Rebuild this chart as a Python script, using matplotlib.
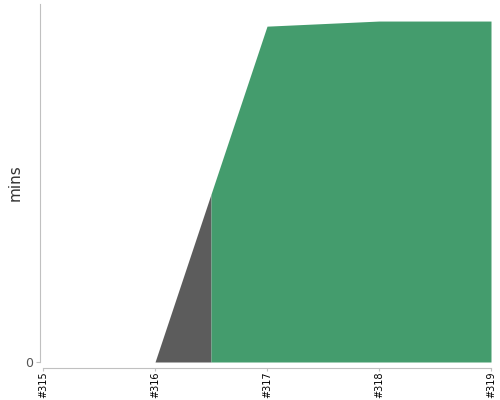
import numpy as np
import matplotlib.pyplot as plt

builds = ['#315', '#316', '#317', '#318', '#319']
mins = [0, 0, 19.7, 20.0, 20.0]
split_at = 1.5  # gray before this position, green after

x = np.arange(len(builds), dtype=float)
y = np.array(mins, dtype=float)

fig = plt.figure(figsize=(5, 4), dpi=100)
ax = fig.add_axes([0.08, 0.095, 0.902, 0.895])

# spine position first: it resets the tick settings
for s in ['top', 'right']:
    ax.spines[s].set_visible(False)
ax.spines['left'].set_color('#c0c0c0')
ax.spines['bottom'].set_color('#c0c0c0')
ax.spines['bottom'].set_position(('outward', 4))

# interpolate at the split point so both fills meet cleanly
ys = np.interp(split_at, x, y)
left_x = np.append(x[x < split_at], split_at)
left_y = np.append(y[x < split_at], ys)
right_x = np.insert(x[x > split_at], 0, split_at)
right_y = np.insert(y[x > split_at], 0, ys)

ax.fill_between(left_x, 0, left_y, color='#5c5c5c', linewidth=0)
ax.fill_between(right_x, 0, right_y, color='#449c6d', linewidth=0)

ax.set_xlim(-0.027, len(builds) - 1)
ax.set_ylim(0, 21.0)
ax.spines['bottom'].set_bounds(0, len(builds) - 1)
ax.set_xticks(x)
ax.set_xticklabels(builds, rotation=90, fontsize=7, color='black')
ax.set_yticks([0])
ax.set_yticklabels(['0'], fontsize=9, color='#555555')
ax.set_ylabel('mins', fontsize=11, color='#333333', labelpad=2)
ax.tick_params(axis='x', length=2, color='#c0c0c0', pad=1)
ax.tick_params(axis='y', length=3, color='#c0c0c0', pad=2)

fig.savefig('out.png')
